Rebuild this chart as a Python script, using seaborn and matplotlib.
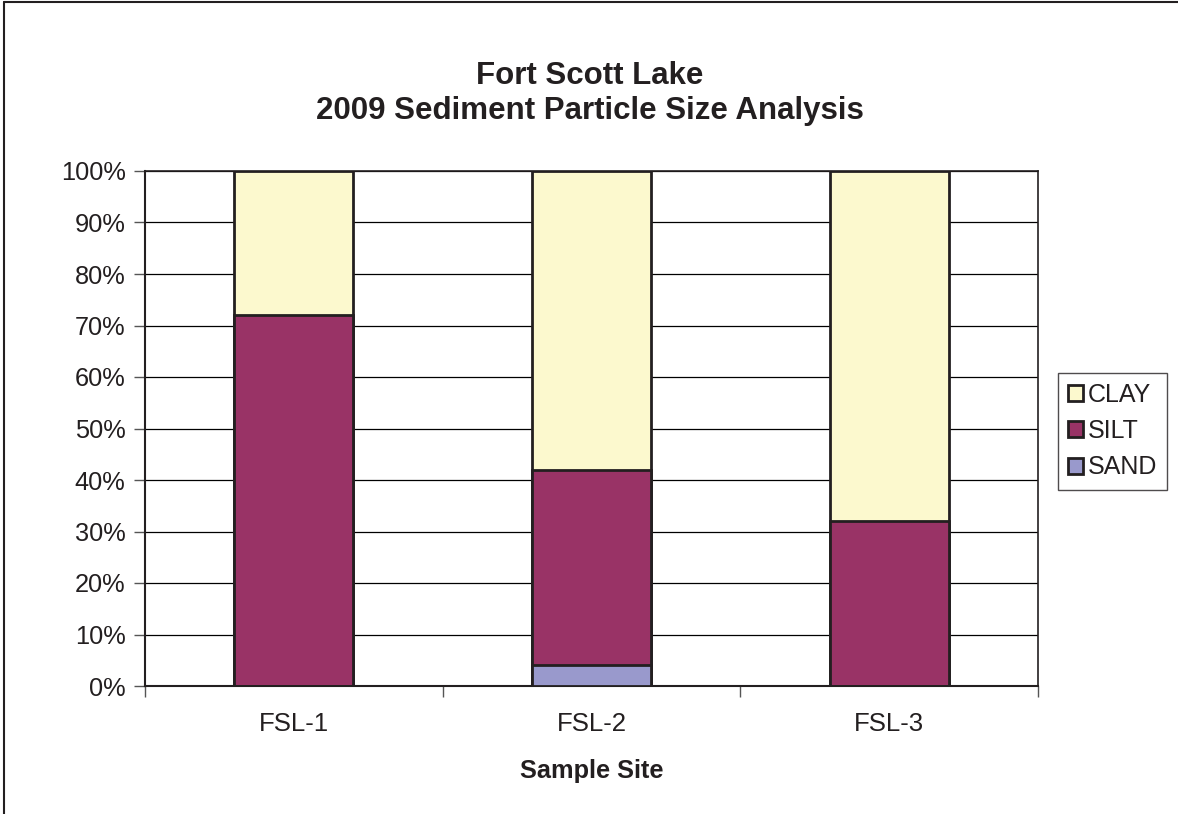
import numpy as np
import pandas as pd
import seaborn as sns
import matplotlib.pyplot as plt
from matplotlib.lines import Line2D
from matplotlib.patches import Patch

sites = ['FSL-1', 'FSL-2', 'FSL-3']
sand = [0, 4, 0]
silt = [72, 38, 32]
clay = [28, 58, 68]

dados = pd.DataFrame({'site': sites, 'SAND': sand, 'SILT': silt, 'CLAY': clay})
dados['top_silt'] = dados['SAND'] + dados['SILT']
dados['top_clay'] = dados['top_silt'] + dados['CLAY']

cores = {'CLAY': '#FCF9CE', 'SILT': '#993366', 'SAND': '#9999CC'}

sns.set_style('white')
plt.rcParams['font.family'] = ['Liberation Sans', 'DejaVu Sans']

fig = plt.figure(figsize=(11.78, 8.14), dpi=100)
ax = fig.add_axes([145 / 1178, 1 - 686 / 814, 893 / 1178, 515 / 814])

for col, cor in [('top_clay', cores['CLAY']), ('top_silt', cores['SILT']), ('SAND', cores['SAND'])]:
    sns.barplot(data=dados, x='site', y=col, color=cor, width=0.4,
                edgecolor='#231F20', linewidth=2, saturation=1, ax=ax, zorder=3)

ax.set_ylim(0, 100)
ax.set_xlim(-0.5, 2.5)
ax.set_yticks(np.arange(0, 101, 10))
ax.set_yticklabels([f'{v}%' for v in range(0, 101, 10)], fontsize=18.3, color='#231F20')
ax.yaxis.grid(True, color='black', linewidth=0.9, zorder=0)
ax.set_axisbelow(True)

ax.set_xticks([0, 1, 2])
ax.set_xticklabels(sites, fontsize=18.5, color='#231F20')
ax.set_xticks([-0.5, 0.5, 1.5, 2.5], minor=True)
ax.tick_params(axis='x', which='major', length=0, pad=19)
ax.tick_params(axis='x', which='minor', length=8, width=1, color='#555555', direction='out', bottom=True)
ax.tick_params(axis='y', length=8, width=1, color='#555555', direction='out', left=True, pad=6)

for s in ax.spines.values():
    s.set_color('#231F20')
    s.set_linewidth(1.2)
ax.spines['left'].set_linewidth(1.5)
ax.spines['bottom'].set_linewidth(1.5)

ax.set_ylabel('')
ax.set_xlabel('Sample Site', fontsize=18.3, fontweight='bold', labelpad=16, color='#231F20')

fig.text(590 / 1178, 1 - 76 / 814, 'Fort Scott Lake', ha='center', va='center',
         fontsize=22.5, fontweight='bold', color='#231F20')
fig.text(590 / 1178, 1 - 111 / 814, '2009 Sediment Particle Size Analysis', ha='center', va='center',
         fontsize=22.5, fontweight='bold', color='#231F20')

handles = [Patch(facecolor=cores[k], edgecolor='#231F20', linewidth=2, label=k)
           for k in ['CLAY', 'SILT', 'SAND']]
leg = fig.legend(handles=handles, loc='center left', bbox_to_anchor=(1058 / 1178, 1 - 431 / 814),
                 fontsize=18, frameon=True, fancybox=False, edgecolor='#231F20',
                 handlelength=0.6, handleheight=0.6, handletextpad=0.2,
                 labelspacing=0.5, borderpad=0.4, borderaxespad=0)
leg.get_frame().set_linewidth(1)
for t in leg.get_texts():
    t.set_color('#231F20')

# borda do gráfico (só esquerda e topo aparecem)
fig.add_artist(Line2D([4 / 1178, 4 / 1178], [0, 1 - 2 / 814], color='#231F20', linewidth=1.5))
fig.add_artist(Line2D([4 / 1178, 1], [1 - 2 / 814, 1 - 2 / 814], color='#231F20', linewidth=1.5))

plt.savefig('out.png', dpi=100)
